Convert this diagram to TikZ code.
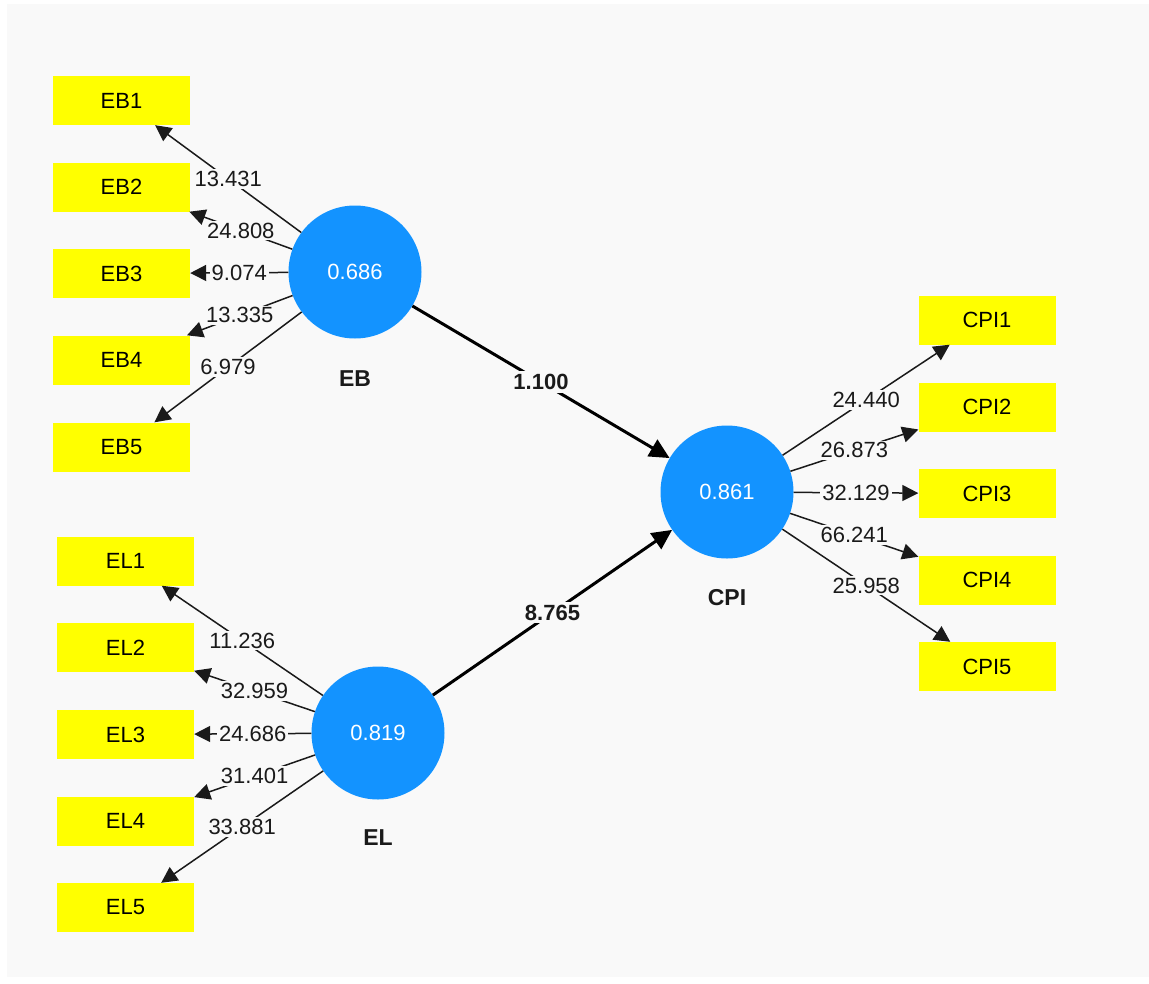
\documentclass[tikz,border=0pt]{standalone}
\usepackage{fontspec}
\setmainfont{Liberation Sans}
\usetikzlibrary{arrows.meta}
\definecolor{bgc}{HTML}{F9F9F9}
\definecolor{lvblue}{HTML}{1393FF}
\definecolor{ylw}{HTML}{FFFF00}
\definecolor{ink}{HTML}{1A1A1A}
\begin{document}
\begin{tikzpicture}[x=1pt,y=-1pt,
  ind/.style={fill=ylw, minimum width=137pt, minimum height=49pt, inner sep=0pt, text=black, font=\fontsize{22}{22}\selectfont},
  lv/.style={circle, fill=lvblue, minimum size=133pt, inner sep=0pt, text=white, font=\fontsize{22}{22}\selectfont},
  lvname/.style={text=ink, font=\bfseries\fontsize{23}{23}\selectfont},
  load/.style={draw=ink, line width=1.5pt, -{Triangle[length=16pt,width=16pt]}},
  pathArrow/.style={draw=black, line width=3pt, -{Triangle[length=20pt,width=19pt]}},
  lab/.style={fill=bgc, inner sep=2pt, text=ink, font=\fontsize{22}{22}\selectfont},
  plab/.style={fill=bgc, inner sep=3pt, text=ink, font=\bfseries\fontsize{22}{22}\selectfont}]
\useasboundingbox (0,0) rectangle (1149,983);
\fill[bgc] (7,4) rectangle (1149,977);

% latent variables
\node[lv] (EB) at (355,272) {0.686};
\node[lv] (EL) at (378,733) {0.819};
\node[lv] (CPI) at (727,492) {0.861};
\node[lvname] (EBn) at (355,379) {EB};
\node[lvname] (ELn) at (378,838) {EL};
\node[lvname] (CPIn) at (727,598) {CPI};

% indicators
\node[ind] (EB1) at (121.5,100.5) {EB1};
\node[ind] (EB2) at (121.5,187) {EB2};
\node[ind] (EB3) at (121.5,273.5) {EB3};
\node[ind] (EB4) at (121.5,360) {EB4};
\node[ind] (EB5) at (121.5,447) {EB5};

\node[ind] (EL1) at (125.5,561) {EL1};
\node[ind] (EL2) at (125.5,647.5) {EL2};
\node[ind] (EL3) at (125.5,734.5) {EL3};
\node[ind] (EL4) at (125.5,821) {EL4};
\node[ind] (EL5) at (125.5,907.5) {EL5};

\node[ind] (CPI1) at (987,320) {CPI1};
\node[ind] (CPI2) at (987,407) {CPI2};
\node[ind] (CPI3) at (987,493.5) {CPI3};
\node[ind] (CPI4) at (987,580) {CPI4};
\node[ind] (CPI5) at (987,666.5) {CPI5};

% loadings
\draw[load] (EB) -- node[lab] {13.431} (EB1);
\draw[load] (EB) -- node[lab] {24.808} (EB2);
\draw[load] (EB) -- node[lab] {9.074} (EB3);
\draw[load] (EB) -- node[lab] {13.335} (EB4);
\draw[load] (EB) -- node[lab] {6.979} (EB5);

\draw[load] (EL) -- node[lab] {11.236} (EL1);
\draw[load] (EL) -- node[lab] {32.959} (EL2);
\draw[load] (EL) -- node[lab] {24.686} (EL3);
\draw[load] (EL) -- node[lab] {31.401} (EL4);
\draw[load] (EL) -- node[lab] {33.881} (EL5);

\draw[load] (CPI) -- node[lab] {24.440} (CPI1);
\draw[load] (CPI) -- node[lab] {26.873} (CPI2);
\draw[load] (CPI) -- node[lab] {32.129} (CPI3);
\draw[load] (CPI) -- node[lab] {66.241} (CPI4);
\draw[load] (CPI) -- node[lab] {25.958} (CPI5);

% structural paths
\draw[pathArrow] (EB) -- node[plab] {1.100} (CPI);
\draw[pathArrow] (EL) -- node[plab] {8.765} (CPI);
\end{tikzpicture}
\end{document}
